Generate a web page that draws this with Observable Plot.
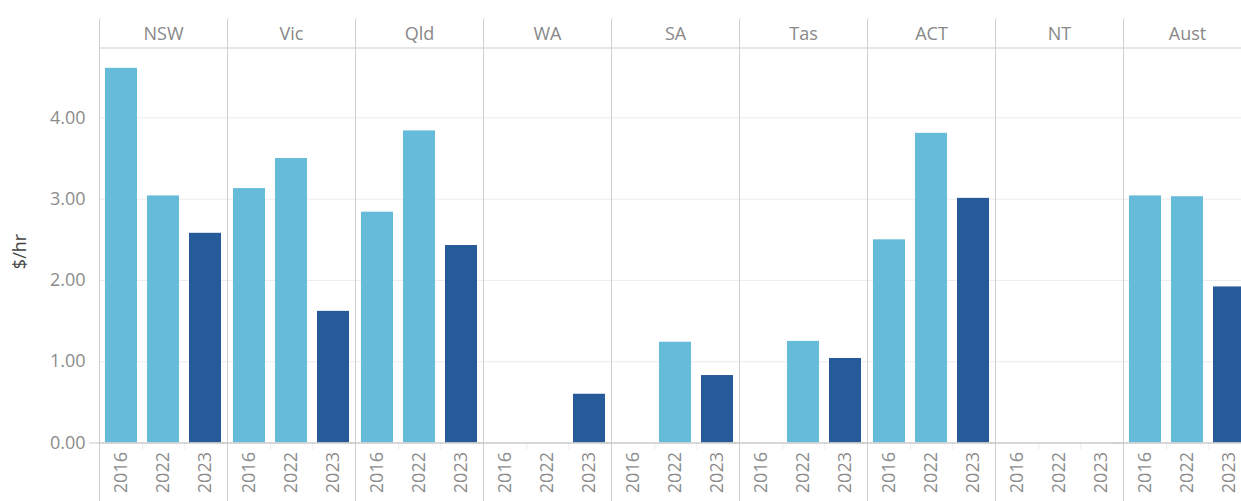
<!DOCTYPE html>
<html><head><meta charset="utf-8">
<script src="https://cdn.jsdelivr.net/npm/d3@7"></script>
<script src="https://cdn.jsdelivr.net/npm/@observablehq/plot@0.6"></script>
<style>
html,body{margin:0;padding:0;overflow:hidden;background:#fff;}
svg{max-width:none !important;}
</style></head><body><div id="chart"></div>
<script>
const states = ["NSW","Vic","Qld","WA","SA","Tas","ACT","NT","Aust"];
const years = ["2016","2022","2023"];
const values2016 = [4.61, 3.13, 2.84, null, null, null, 2.50, null, 3.04];
const values2022 = [3.04, 3.50, 3.84, null, 1.24, 1.25, 3.81, null, 3.03];
const values2023 = [2.58, 1.62, 2.43, 0.60, 0.83, 1.04, 3.01, null, 1.92];
const yTicks = [0, 1, 2, 3, 4];
const gridTicks = [1, 2, 3, 4];
const yearColors = ["#66bbda", "#66bbda", "#275a99"];
const yLabel = "$/hr";

const series = [values2016, values2022, values2023];
const rows = [];
states.forEach((s, i) => {
  series.forEach((arr, j) => {
    if (arr[i] != null) rows.push({state: s, year: years[j], value: arr[i]});
  });
});

const W = 1252, H = 501, mL = 98, mR = 0, mT = 47.5, mB = 58.5;
const facetW = (W - mL - mR) / states.length;
const headerH = 29.5;
const ext = 100;
const sideH = H - mB - mT + headerH + ext;
const plotH = H - mT - mB;

const plot = Plot.plot({
  width: W, height: H,
  marginLeft: mL, marginRight: mR, marginTop: mT, marginBottom: mB,
  style: {fontFamily: "'Open Sans', sans-serif", fontSize: "18px", color: "#8c8c8c", background: "#fff", overflow: "visible"},
  fx: {domain: states, padding: 0, axis: null, label: null},
  x: {domain: years, paddingInner: 0.25, paddingOuter: 0.125, tickRotate: -90, tickSize: 0, tickPadding: 9, label: null},
  y: {domain: [0, 4.86], ticks: yTicks, tickFormat: ".2f", tickSize: 0, tickPadding: 14, label: yLabel, labelAnchor: "center", labelOffset: 86},
  color: {domain: years, range: yearColors},
  marks: [
    Plot.ruleY(gridTicks, {stroke: "#ebebeb"}),
    Plot.ruleX(years.slice(0, 2), {x: d => d, dx: facetW / 6, insetTop: plotH, insetBottom: -7, stroke: "#ececec"}),
    Plot.barY(rows, {fx: "state", x: "year", y: "value", fill: "year"}),
    Plot.frame({stroke: "#d0d0d0", insetTop: -headerH, insetBottom: -ext, strokeDasharray: `0 ${facetW} ${facetW + 2 * sideH}`}),
    Plot.frame({stroke: "#d0d0d0"}),
    Plot.ruleY([0], {stroke: "#c8c8c8", insetLeft: -10}),
    Plot.text(states, {fx: d => d, text: d => d, frameAnchor: "top", dy: -13.5, lineAnchor: "middle", fill: "#888"})
  ]
});
d3.select(plot).selectAll("text")
  .filter(function() { return this.textContent.includes(yLabel); })
  .text(yLabel).attr("fill", "#444")
  .attr("transform", function() { return "translate(0,6) " + (this.getAttribute("transform") || ""); });
document.getElementById("chart").appendChild(plot);
</script></body></html>
